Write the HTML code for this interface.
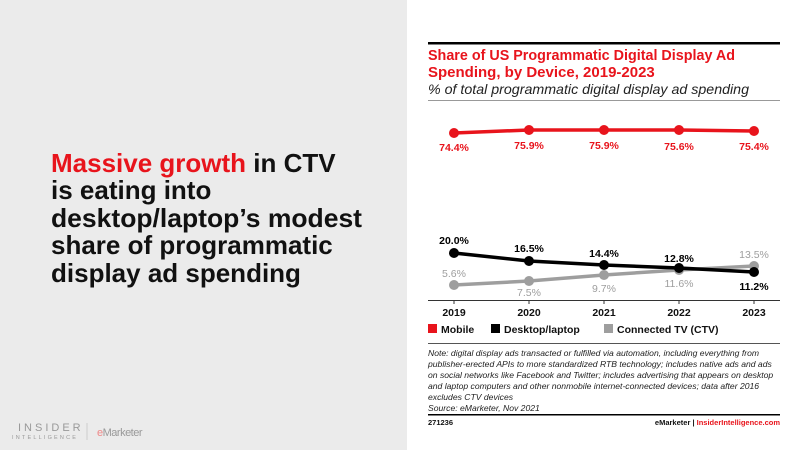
<!DOCTYPE html>
<html><head><meta charset="utf-8"><style>
html,body{margin:0;padding:0;width:800px;height:450px;overflow:hidden;background:#fff}
svg{display:block;font-family:"Liberation Sans",sans-serif}
</style></head><body>
<svg width="800" height="450" viewBox="0 0 800 450">
<rect x="0" y="0" width="407" height="450" fill="#ebebeb"/>
<g font-size="26" font-weight="bold" fill="#111">
<text x="51" y="172"><tspan fill="#e8141c">Massive growth</tspan> in CTV</text>
<text x="51" y="199">is eating into</text>
<text x="51" y="227" textLength="311" lengthAdjust="spacingAndGlyphs">desktop/laptop’s modest</text>
<text x="51" y="254">share of programmatic</text>
<text x="51" y="282">display ad spending</text>
</g>
<text x="18" y="431" font-size="11" fill="#999" letter-spacing="3">INSIDER</text>
<text x="12" y="439" font-size="5.5" fill="#999" letter-spacing="2.2">INTELLIGENCE</text>
<line x1="87" y1="423" x2="87" y2="440" stroke="#ccc"/>
<text x="97" y="436" font-size="11" fill="#999" letter-spacing="-0.5"><tspan fill="#e88">e</tspan>Marketer</text>

<rect x="428" y="42" width="352" height="2.5" fill="#000"/>
<text x="428" y="60" font-size="15" font-weight="bold" fill="#e8141c" textLength="307" lengthAdjust="spacingAndGlyphs">Share of US Programmatic Digital Display Ad</text>
<text x="428" y="77" font-size="15" font-weight="bold" fill="#e8141c">Spending, by Device, 2019-2023</text>
<text x="428" y="94" font-size="14" font-style="italic" fill="#222" textLength="321" lengthAdjust="spacingAndGlyphs">% of total programmatic digital display ad spending</text>
<rect x="428" y="100" width="352" height="1" fill="#999"/>

<polyline points="454,133 529,130 604,130 679,130 754,131" fill="none" stroke="#e8141c" stroke-width="3.5"/>
<g fill="#e8141c"><circle cx="454" cy="133" r="5"/><circle cx="529" cy="130" r="5"/><circle cx="604" cy="130" r="5"/><circle cx="679" cy="130" r="5"/><circle cx="754" cy="131" r="5"/></g>
<g font-size="10.5" fill="#e8141c" text-anchor="middle" font-weight="bold">
<text x="454" y="151">74.4%</text><text x="529" y="149">75.9%</text><text x="604" y="149">75.9%</text><text x="679" y="150">75.6%</text><text x="754" y="150">75.4%</text></g>

<polyline points="454,285 529,281 604,275 679,270 754,266" fill="none" stroke="#9e9e9e" stroke-width="3.5"/>
<g fill="#9e9e9e"><circle cx="454" cy="285" r="5"/><circle cx="529" cy="281" r="5"/><circle cx="604" cy="275" r="5"/><circle cx="679" cy="270" r="5"/><circle cx="754" cy="266" r="5"/></g>
<polyline points="454,253 529,261 604,265 679,268 754,272" fill="none" stroke="#000" stroke-width="3.5"/>
<g fill="#000"><circle cx="454" cy="253" r="5"/><circle cx="529" cy="261" r="5"/><circle cx="604" cy="265" r="5"/><circle cx="679" cy="268" r="5"/><circle cx="754" cy="272" r="5"/></g>
<g font-size="10.5" fill="#000" text-anchor="middle" font-weight="bold">
<text x="454" y="244">20.0%</text><text x="529" y="252">16.5%</text><text x="604" y="257">14.4%</text><text x="679" y="262">12.8%</text><text x="754" y="290">11.2%</text></g>
<g font-size="10.5" fill="#9e9e9e" text-anchor="middle">
<text x="454" y="277">5.6%</text><text x="529" y="296">7.5%</text><text x="604" y="292">9.7%</text><text x="679" y="287">11.6%</text><text x="754" y="258">13.5%</text></g>

<rect x="428" y="300" width="352" height="1" fill="#333"/>
<g stroke="#333"><line x1="454" y1="300" x2="454" y2="304"/><line x1="529" y1="300" x2="529" y2="304"/><line x1="604" y1="300" x2="604" y2="304"/><line x1="679" y1="300" x2="679" y2="304"/><line x1="754" y1="300" x2="754" y2="304"/></g>
<g font-size="10.5" font-weight="bold" fill="#111" text-anchor="middle">
<text x="454" y="316">2019</text><text x="529" y="316">2020</text><text x="604" y="316">2021</text><text x="679" y="316">2022</text><text x="754" y="316">2023</text></g>
<g font-size="10.5" font-weight="bold" fill="#111">
<rect x="428" y="324" width="9" height="9" fill="#e8141c"/><text x="441" y="333">Mobile</text>
<rect x="491" y="324" width="9" height="9" fill="#000"/><text x="504" y="333">Desktop/laptop</text>
<rect x="604" y="324" width="9" height="9" fill="#9e9e9e"/><text x="617" y="333">Connected TV (CTV)</text></g>

<rect x="428" y="343" width="352" height="1" fill="#555"/>
<g font-size="8.6" font-style="italic" fill="#222">
<text x="428" y="356">Note: digital display ads transacted or fulfilled via automation, including everything from</text>
<text x="428" y="367">publisher-erected APIs to more standardized RTB technology; includes native ads and ads</text>
<text x="428" y="378">on social networks like Facebook and Twitter; includes advertising that appears on desktop</text>
<text x="428" y="389">and laptop computers and other nonmobile internet-connected devices; data after 2016</text>
<text x="428" y="400">excludes CTV devices</text>
<text x="428" y="411">Source: eMarketer, Nov 2021</text></g>
<rect x="428" y="414" width="352" height="1.5" fill="#000"/>
<text x="428" y="425" font-size="7.5" font-weight="bold" fill="#111">271236</text>
<text x="780" y="425" font-size="7.5" font-weight="bold" text-anchor="end" fill="#111">eMarketer  |  <tspan fill="#e8141c">InsiderIntelligence.com</tspan></text>
</svg>
</body></html>
